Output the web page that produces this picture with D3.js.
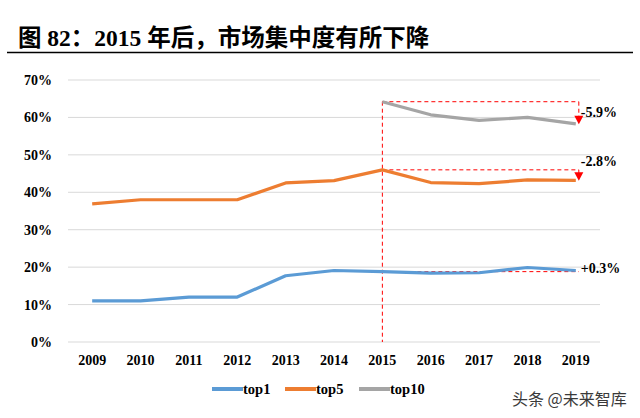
<!DOCTYPE html>
<html>
<head>
<meta charset="utf-8">
<script src="https://cdn.jsdelivr.net/npm/d3@7"></script>
<style>
body { margin: 0; background: #fff; }
</style>
</head>
<body>
<div id="main"></div>
<script>
var years = ["2009","2010","2011","2012","2013","2014","2015","2016","2017","2018","2019"];
var top1 = [11.0, 11.0, 12.0, 12.0, 17.7, 19.1, 18.8, 18.4, 18.5, 19.9, 19.1];
var top5 = [36.9, 38.0, 38.0, 38.0, 42.5, 43.1, 46.0, 42.6, 42.3, 43.3, 43.2];
var top10 = [null, null, null, null, null, null, 64.2, 60.7, 59.2, 60.0, 58.3];
var seriesNames = ["top1", "top5", "top10"];
var seriesColors = ["#5b9bd5", "#ed7d31", "#a5a5a5"];
var yTicks = [0, 10, 20, 30, 40, 50, 60, 70];
var changeLabels = ["+0.3%", "-2.8%", "-5.9%"];

var WIDTH = 640, HEIGHT = 418;
var margin = {left: 68, right: 40, top: 80, bottom: 76};

var svg = d3.select("#main").append("svg")
	.attr("width", WIDTH)
	.attr("height", HEIGHT);

// title
svg.append("text")
	.attr("x", 18).attr("y", 46)
	.attr("font-family", "'Liberation Serif','Noto Sans CJK SC'")
	.attr("font-weight", "bold")
	.attr("font-size", 23.5)
	.attr("fill", "#000")
	.text("图 82：2015 年后，市场集中度有所下降");
svg.append("line")
	.attr("x1", 7).attr("x2", 633)
	.attr("y1", 52.5).attr("y2", 52.5)
	.attr("stroke", "#000").attr("stroke-width", 1.6);

var x = d3.scaleBand().domain(years).range([margin.left, WIDTH - margin.right]);
var y = d3.scaleLinear().domain([0, 70]).range([HEIGHT - margin.bottom, margin.top]);
var cx = function(yr) { return x(yr) + x.bandwidth() / 2; };

// grid
svg.append("g").selectAll("line").data(yTicks).join("line")
	.attr("x1", margin.left).attr("x2", WIDTH - margin.right)
	.attr("y1", d => y(d)).attr("y2", d => y(d))
	.attr("stroke", "#d9d9d9").attr("stroke-width", 1);

var yAxis = svg.append("g")
	.attr("transform", "translate(" + (margin.left - 13) + ",0)")
	.call(d3.axisLeft(y).tickValues(yTicks).tickSize(0).tickFormat(d => d + "%"));
yAxis.select(".domain").remove();

var xAxis = svg.append("g")
	.attr("transform", "translate(0," + (HEIGHT - margin.bottom + 10) + ")")
	.call(d3.axisBottom(x).tickSize(0));
xAxis.select(".domain").remove();

svg.selectAll(".tick text")
	.attr("font-family", "'Liberation Serif'")
	.attr("font-weight", "bold")
	.attr("font-size", 14)
	.attr("fill", "#000");

// annotation dashes
var ann = svg.append("g")
	.attr("stroke", "#ff0000")
	.attr("stroke-width", 1)
	.attr("stroke-dasharray", "4,3")
	.attr("fill", "none");
var x15 = cx("2015"), x19 = cx("2019") + 3;
ann.append("line")
	.attr("x1", x15).attr("x2", x15)
	.attr("y1", y(top10[6])).attr("y2", y(0));

var allSeries = [top1, top5, top10];
allSeries.forEach(function(s, i) {
	ann.append("line")
		.attr("x1", x15).attr("x2", x19)
		.attr("y1", y(s[6])).attr("y2", y(s[6]));
	if (i > 0) {
		ann.append("line")
			.attr("x1", x19).attr("x2", x19)
			.attr("y1", y(s[6])).attr("y2", y(s[10]) - 7);
		svg.append("path")
			.attr("d", "M" + (x19 - 4.5) + "," + (y(s[10]) - 8) + "L" + (x19 + 4.5) + "," + (y(s[10]) - 8) + "L" + x19 + "," + (y(s[10]) + 0.5) + "Z")
			.attr("fill", "#ff0000");
	}
});

// lines
var line = d3.line()
	.defined(d => d.v != null)
	.x(d => cx(d.yr))
	.y(d => y(d.v));
allSeries.forEach(function(s, i) {
	svg.append("path")
		.datum(years.map((yr, j) => ({yr: yr, v: s[j]})))
		.attr("d", line)
		.attr("fill", "none")
		.attr("stroke", seriesColors[i])
		.attr("stroke-width", 3.2)
		.attr("stroke-linejoin", "round");
});

// change labels
var labelY = [y(top1[10]) + 2, y(top5[6]) - 4, y(top10[10]) - 7];
changeLabels.forEach(function(t, i) {
	svg.append("text")
		.attr("x", x19 + 2).attr("y", labelY[i])
		.attr("font-family", "'Liberation Serif'")
		.attr("font-weight", "bold")
		.attr("font-size", 14)
		.attr("fill", "#000")
		.text(t);
});

// legend
var legX = [212, 285, 359];
var leg = svg.append("g");
seriesNames.forEach(function(n, i) {
	leg.append("line")
		.attr("x1", legX[i]).attr("x2", legX[i] + 31)
		.attr("y1", 389).attr("y2", 389)
		.attr("stroke", seriesColors[i]).attr("stroke-width", 4);
	leg.append("text")
		.attr("x", legX[i] + 31).attr("y", 393.5)
		.attr("font-family", "'Liberation Serif'")
		.attr("font-weight", "bold")
		.attr("font-size", 14.5)
		.text(n);
});

// watermark
svg.append("text")
	.attr("x", 512).attr("y", 405)
	.attr("font-family", "'Noto Sans CJK SC'")
	.attr("font-size", 16)
	.attr("fill", "#3a3a3a")
	.text("头条 @未来智库");
</script>
</body>
</html>
